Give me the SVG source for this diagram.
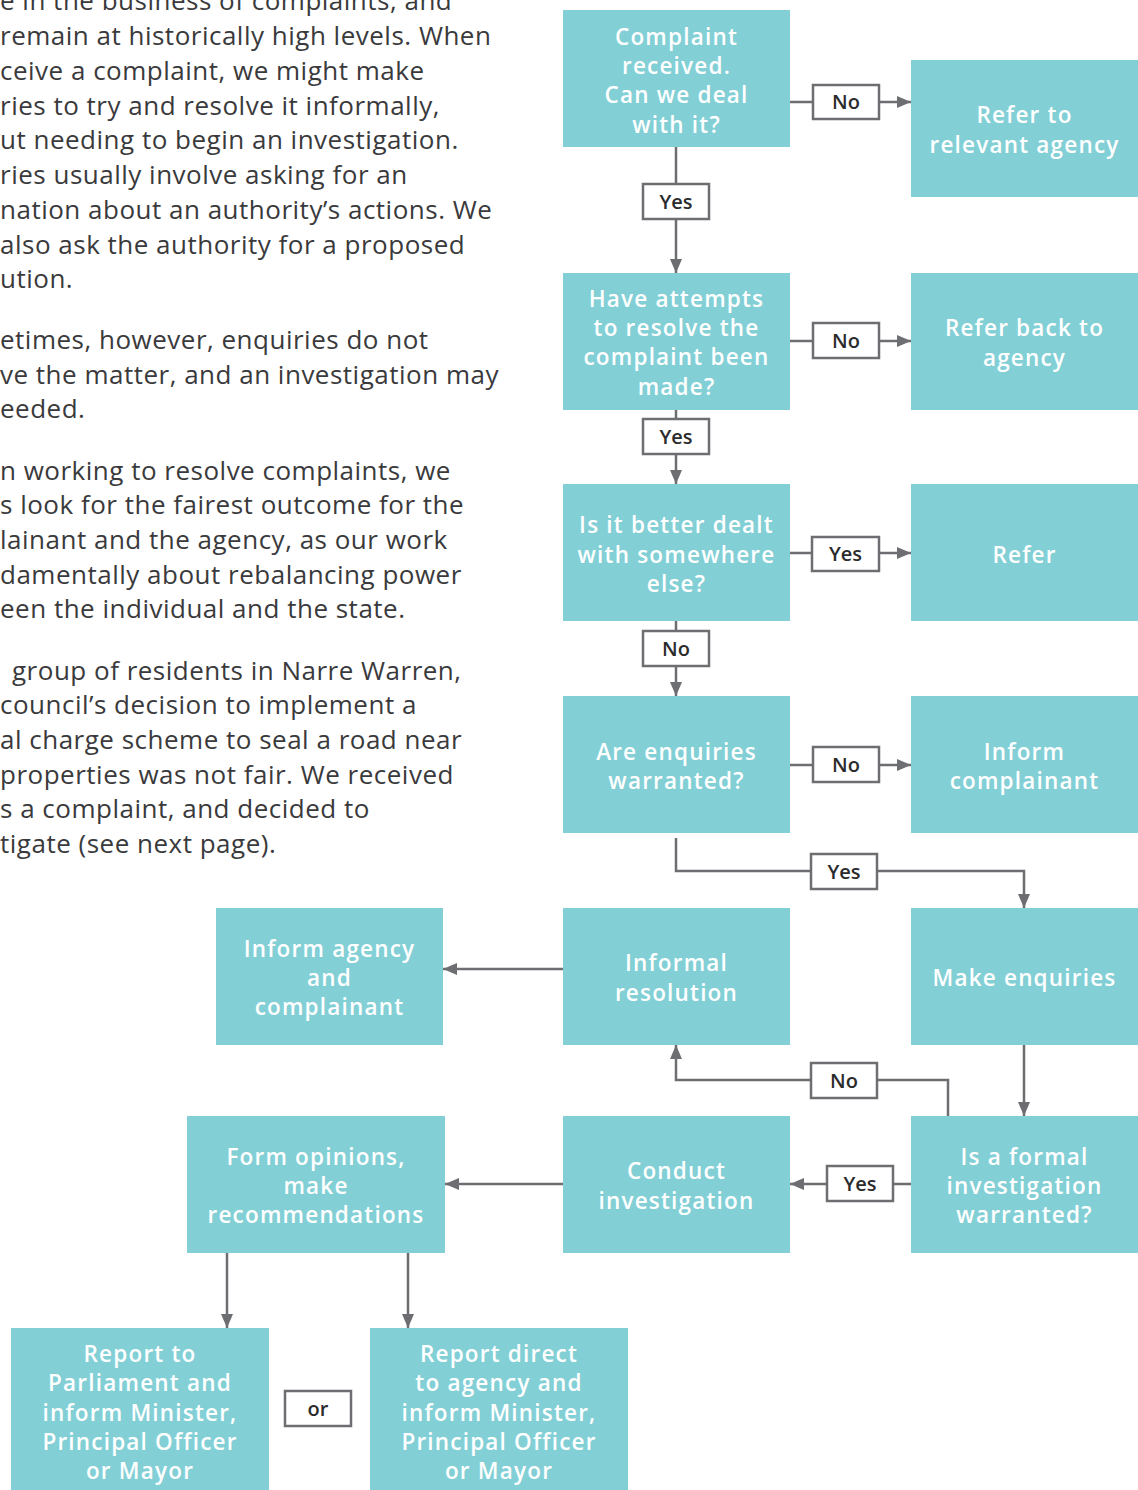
<svg xmlns="http://www.w3.org/2000/svg" width="1138" height="1490" viewBox="0 0 1138 1490">
<style>
.bg{fill:#ffffff}
.para{font-family:"Open Sans","Noto Sans","Liberation Sans",sans-serif;font-size:26px;letter-spacing:0.5px;fill:#3a3a3c}
.node rect{fill:#82cfd6}
.node text{font-family:"Open Sans","Noto Sans","Liberation Sans",sans-serif;font-size:22.5px;font-weight:600;letter-spacing:1.2px;fill:#ffffff;text-anchor:middle}
.conn{fill:none;stroke:#6d6e71;stroke-width:2.5}
.lbl rect{fill:#ffffff;stroke:#6d6e71;stroke-width:2.5}
.lbl text{font-family:"Open Sans","Noto Sans","Liberation Sans",sans-serif;font-size:20px;font-weight:600;fill:#2b2b2d;text-anchor:middle}
</style>
<defs>
<marker id="ah" viewBox="0 0 14 14" refX="14" refY="7" markerWidth="14" markerHeight="14" markerUnits="userSpaceOnUse" orient="auto">
<path d="M0,1 L14,7 L0,13 Z" fill="#6d6e71"/>
</marker>
</defs>
<rect class="bg" x="0" y="0" width="1138" height="1490"/>

<g id="body-text" class="para">
<text x="0" y="10">e in the business of complaints, and</text>
<text x="0" y="45">remain at historically high levels. When</text>
<text x="0" y="80">ceive a complaint, we might make</text>
<text x="0" y="115">ries to try and resolve it informally,</text>
<text x="0" y="149">ut needing to begin an investigation.</text>
<text x="0" y="184">ries usually involve asking for an</text>
<text x="0" y="219">nation about an authority’s actions. We</text>
<text x="0" y="254">also ask the authority for a proposed</text>
<text x="0" y="288">ution.</text>
<text x="0" y="349">etimes, however, enquiries do not</text>
<text x="0" y="384">ve the matter, and an investigation may</text>
<text x="0" y="418">eeded.</text>
<text x="0" y="480">n working to resolve complaints, we</text>
<text x="0" y="514">s look for the fairest outcome for the</text>
<text x="0" y="549">lainant and the agency, as our work</text>
<text x="0" y="584">damentally about rebalancing power</text>
<text x="0" y="618">een the individual and the state.</text>
<text x="12" y="680">group of residents in Narre Warren,</text>
<text x="0" y="714">council’s decision to implement a</text>
<text x="0" y="749">al charge scheme to seal a road near</text>
<text x="0" y="784">properties was not fair. We received</text>
<text x="0" y="818">s a complaint, and decided to</text>
<text x="0" y="853">tigate (see next page).</text>
</g>

<g id="connectors">
<path class="conn" d="M790,102 H911" marker-end="url(#ah)"/>
<path class="conn" d="M676,147 V273" marker-end="url(#ah)"/>
<path class="conn" d="M790,341 H911" marker-end="url(#ah)"/>
<path class="conn" d="M676,410 V484" marker-end="url(#ah)"/>
<path class="conn" d="M790,553 H911" marker-end="url(#ah)"/>
<path class="conn" d="M676,621 V696" marker-end="url(#ah)"/>
<path class="conn" d="M790,765 H911" marker-end="url(#ah)"/>
<path class="conn" d="M676,838 V871 H1024 V908" marker-end="url(#ah)"/>
<path class="conn" d="M563,969 H443" marker-end="url(#ah)"/>
<path class="conn" d="M1024,1045 V1116" marker-end="url(#ah)"/>
<path class="conn" d="M948,1116 V1080 H676 V1045" marker-end="url(#ah)"/>
<path class="conn" d="M911,1184 H790" marker-end="url(#ah)"/>
<path class="conn" d="M563,1184 H445" marker-end="url(#ah)"/>
<path class="conn" d="M227,1253 V1328" marker-end="url(#ah)"/>
<path class="conn" d="M408,1253 V1328" marker-end="url(#ah)"/>
<g class="lbl">
<rect x="813" y="85" width="66" height="34"/><text x="846" y="109">No</text>
<rect x="643" y="184" width="66" height="35"/><text x="676" y="209">Yes</text>
<rect x="813" y="323" width="66" height="35"/><text x="846" y="348">No</text>
<rect x="643" y="419" width="66" height="35"/><text x="676" y="444">Yes</text>
<rect x="812" y="537" width="67" height="34"/><text x="845.5" y="561">Yes</text>
<rect x="643" y="631" width="66" height="35"/><text x="676" y="656">No</text>
<rect x="813" y="747" width="66" height="35"/><text x="846" y="772">No</text>
<rect x="811" y="854" width="66" height="35"/><text x="844" y="879">Yes</text>
<rect x="811" y="1063" width="66" height="35"/><text x="844" y="1088">No</text>
<rect x="827" y="1166" width="66" height="35"/><text x="860" y="1191">Yes</text>
<rect x="285" y="1391" width="66" height="35"/><text x="318" y="1416">or</text>
</g>
</g>

<g id="n-complaint" class="node"><rect x="563" y="10" width="227" height="137"/>
<text x="676.5" y="45">Complaint</text><text x="676.5" y="74">received.</text><text x="676.5" y="103">Can we deal</text><text x="676.5" y="133">with it?</text></g>
<g id="n-refer-relevant" class="node"><rect x="911" y="60" width="227" height="137"/>
<text x="1024.5" y="123">Refer to</text><text x="1024.5" y="153">relevant agency</text></g>
<g id="n-attempts" class="node"><rect x="563" y="273" width="227" height="137"/>
<text x="676.5" y="307">Have attempts</text><text x="676.5" y="336">to resolve the</text><text x="676.5" y="365">complaint been</text><text x="676.5" y="395">made?</text></g>
<g id="n-refer-back" class="node"><rect x="911" y="273" width="227" height="137"/>
<text x="1024.5" y="336">Refer back to</text><text x="1024.5" y="366">agency</text></g>
<g id="n-better" class="node"><rect x="563" y="484" width="227" height="137"/>
<text x="676.5" y="533">Is it better dealt</text><text x="676.5" y="563">with somewhere</text><text x="676.5" y="592">else?</text></g>
<g id="n-refer" class="node"><rect x="911" y="484" width="227" height="137"/>
<text x="1024.5" y="563">Refer</text></g>
<g id="n-enquiries-warranted" class="node"><rect x="563" y="696" width="227" height="137"/>
<text x="676.5" y="760">Are enquiries</text><text x="676.5" y="789">warranted?</text></g>
<g id="n-inform-complainant" class="node"><rect x="911" y="696" width="227" height="137"/>
<text x="1024.5" y="760">Inform</text><text x="1024.5" y="789">complainant</text></g>
<g id="n-inform-agency" class="node"><rect x="216" y="908" width="227" height="137"/>
<text x="329.5" y="957">Inform agency</text><text x="329.5" y="986">and</text><text x="329.5" y="1015">complainant</text></g>
<g id="n-informal" class="node"><rect x="563" y="908" width="227" height="137"/>
<text x="676.5" y="971">Informal</text><text x="676.5" y="1001">resolution</text></g>
<g id="n-make-enquiries" class="node"><rect x="911" y="908" width="227" height="137"/>
<text x="1024.5" y="986">Make enquiries</text></g>
<g id="n-form-opinions" class="node"><rect x="187" y="1116" width="258" height="137"/>
<text x="316" y="1165">Form opinions,</text><text x="316" y="1194">make</text><text x="316" y="1223">recommendations</text></g>
<g id="n-conduct" class="node"><rect x="563" y="1116" width="227" height="137"/>
<text x="676.5" y="1179">Conduct</text><text x="676.5" y="1209">investigation</text></g>
<g id="n-formal" class="node"><rect x="911" y="1116" width="227" height="137"/>
<text x="1024.5" y="1165">Is a formal</text><text x="1024.5" y="1194">investigation</text><text x="1024.5" y="1223">warranted?</text></g>
<g id="n-report-parliament" class="node"><rect x="11" y="1328" width="258" height="162"/>
<text x="140" y="1362">Report to</text><text x="140" y="1391">Parliament and</text><text x="140" y="1421">inform Minister,</text><text x="140" y="1450">Principal Officer</text><text x="140" y="1479">or Mayor</text></g>
<g id="n-report-direct" class="node"><rect x="370" y="1328" width="258" height="162"/>
<text x="499" y="1362">Report direct</text><text x="499" y="1391">to agency and</text><text x="499" y="1421">inform Minister,</text><text x="499" y="1450">Principal Officer</text><text x="499" y="1479">or Mayor</text></g>
</svg>
